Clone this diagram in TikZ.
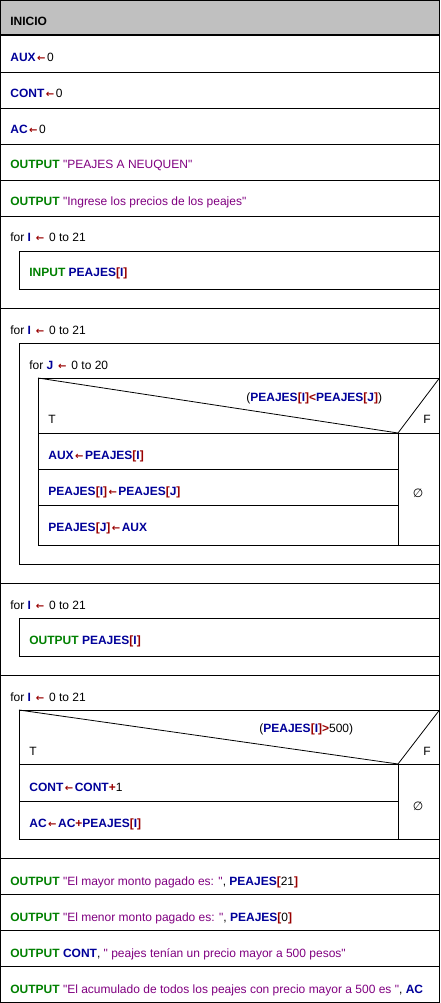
\documentclass[tikz,border=0pt]{standalone}
\usepackage{fontspec}
\setmainfont{Liberation Sans}[Ligatures=TeXOff]
\newfontfamily\simbolo{DejaVu Sans}
\usepackage{xcolor}
\usepackage{tikz}

\definecolor{kwgreen}{RGB}{0,128,0}
\definecolor{varblue}{RGB}{0,0,153}
\definecolor{opred}{RGB}{153,0,0}
\definecolor{strpurple}{RGB}{128,0,128}
\definecolor{headgray}{RGB}{192,192,192}

\newcommand{\kw}[1]{\textcolor{kwgreen}{\textbf{#1}}}
\newcommand{\pvar}[1]{\textcolor{varblue}{\textbf{#1}}}
\newcommand{\opr}[1]{\textcolor{opred}{\textbf{#1}}}
\newcommand{\strg}[1]{\textcolor{strpurple}{#1}}
\newcommand{\asg}{\kern1.5pt\textcolor{opred}{{\simbolo\bfseries\fontsize{10}{12}\selectfont ←}}\kern1.5pt}
\newcommand{\arr}[2]{\pvar{#1}\opr{[}#2\opr{]}}

\begin{document}
\begin{tikzpicture}[x=1pt, y=-1pt, line width=0.8pt,
    every node/.style={anchor=base west, inner sep=0pt, font=\fontsize{12}{14}\selectfont}]
     \useasboundingbox (0,0) rectangle (440,1003);

     % header and frame
     \fill[headgray] (0.5,0.5) rectangle (439.5,35);
     \draw[line width=2pt] (0.5,35) -- (439.5,35);
     \draw (0.5,0.5) rectangle (439.5,1002.5);
     \foreach \y in {72,108,144,180,216,308,583,675,858,894,930,966}
        \draw (0.5,\y) -- (439.5,\y);

     % loop boxes
     \draw (19,251) rectangle (439.5,289);
     \draw (19,343) rectangle (439.5,564);
     \draw (38,378) rectangle (439.5,545);
     \draw (38,378) -- (398,433) -- (439.5,378);
     \draw (38,433) -- (439.5,433);
     \draw (38,469) -- (398,469);
     \draw (38,505) -- (398,505);
     \draw (398,433) -- (398,545);
     \draw (19,618) rectangle (439.5,656);
     \draw (19,710) rectangle (439.5,839);
     \draw (19,710) -- (398,764) -- (439.5,710);
     \draw (19,764) -- (439.5,764);
     \draw (19,801) -- (398,801);
     \draw (398,764) -- (398,839);

     % texts
     \node (inicio) at (10,26) {\textbf{INICIO}};
     \node (auxini) at (10,62) {\pvar{AUX}\asg{}0};
     \node (contini) at (10,98) {\pvar{CONT}\asg{}0};
     \node (acini) at (10,134) {\pvar{AC}\asg{}0};
     \node (titulo) at (10,169) {\kw{OUTPUT} \strg{"PEAJES A NEUQUEN"}};
     \node (pedido) at (10,205) {\kw{OUTPUT} \strg{"Ingrese los precios de los peajes"}};

     \node (forA) at (10,241) {for \pvar{I} \asg{} 0 to 21};
     \node (input) at (29,276) {\kw{INPUT} \arr{PEAJES}{\pvar{I}}};

     \node (forB) at (10,334) {for \pvar{I} \asg{} 0 to 21};
     \node (forJ) at (29,369) {for \pvar{J} \asg{} 0 to 20};
     \node (condA) at (246,401) {(\arr{PEAJES}{\pvar{I}}\opr{<}\arr{PEAJES}{\pvar{J}})};
     \node (tA) at (48,423) {T};
     \node (fA) at (423,423) {F};
     \node (swapA) at (48,459) {\pvar{AUX}\asg\arr{PEAJES}{\pvar{I}}};
     \node (swapB) at (48,495) {\arr{PEAJES}{\pvar{I}}\asg\arr{PEAJES}{\pvar{J}}};
     \node (swapC) at (48,531) {\arr{PEAJES}{\pvar{J}}\asg\pvar{AUX}};
     \node[anchor=center] (nadaA) at (418,493) {\simbolo\fontsize{12}{14}\selectfont ∅};

     \node (forC) at (10,609) {for \pvar{I} \asg{} 0 to 21};
     \node (lista) at (29,644) {\kw{OUTPUT} \arr{PEAJES}{\pvar{I}}};

     \node (forD) at (10,701) {for \pvar{I} \asg{} 0 to 21};
     \node (condB) at (259,732) {(\arr{PEAJES}{\pvar{I}}\opr{>}500)};
     \node (tB) at (29,755) {T};
     \node (fB) at (423,755) {F};
     \node (cuenta) at (29,791) {\pvar{CONT}\asg\pvar{CONT}\opr{+}1};
     \node (suma) at (29,827) {\pvar{AC}\asg\pvar{AC}\opr{+}\arr{PEAJES}{\pvar{I}}};
     \node[anchor=center] (nadaB) at (418,806) {\simbolo\fontsize{12}{14}\selectfont ∅};

     \node (mayor) at (10,885) {\kw{OUTPUT} \strg{"El mayor monto pagado es: "}, \arr{PEAJES}{21}};
     \node (menor) at (10,921) {\kw{OUTPUT} \strg{"El menor monto pagado es: "}, \arr{PEAJES}{0}};
     \node (cantidad) at (10,957) {\kw{OUTPUT} \pvar{CONT}, \strg{" peajes tenían un precio mayor a 500 pesos"}};
     \node (total) at (10,993) {\kw{OUTPUT} \strg{"El acumulado de todos los peajes con precio mayor a 500 es "}, \pvar{AC}};
    \end{tikzpicture}
\end{document}
